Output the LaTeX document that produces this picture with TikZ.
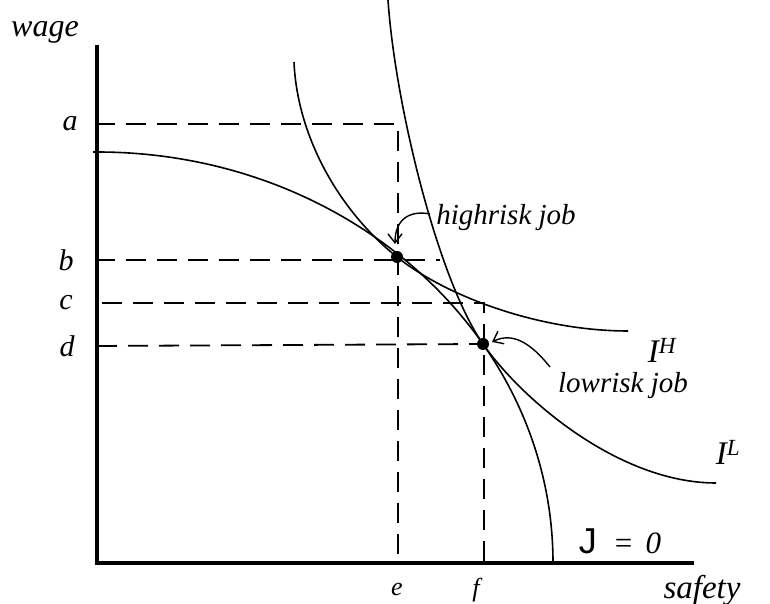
\documentclass[tikz,border=0pt]{standalone}
\usepackage{fontspec}
\setmainfont{Liberation Serif}
\setsansfont{Liberation Sans}
\usetikzlibrary{arrows.meta}
\begin{document}
\begin{tikzpicture}[x=1pt,y=1pt,
  axis/.style={line width=4pt},
  curve/.style={line width=1.6pt},
  guide/.style={line width=1.8pt, dash pattern=on 20pt off 11pt},
  lbl/.style={font=\fontsize{24}{28}\selectfont\itshape, inner sep=0pt},
  big/.style={font=\fontsize{30}{34}\selectfont\itshape},
  dot/.style={circle, fill=black, minimum size=12pt, inner sep=0pt},
  pointer/.style={line width=1.4pt, -{Straight Barb[length=9pt,width=14pt]}}]
\useasboundingbox (0,0) rectangle (770,604);
% axes
\coordinate (O) at (97,41);
\coordinate (Ytop) at (97,559);
\coordinate (Xend) at (694,41);
\draw[axis] (Ytop) -- (O) -- (Xend);
% points
\node[dot] (H) at (397,347) {};
\node[dot] (L) at (483,260) {};
% guide coordinates
\coordinate (ya) at (95,480);
\coordinate (xa) at (398,480);
\coordinate (xe) at (398,41);
\coordinate (yb) at (95,344);
\coordinate (xb) at (440,344);
\coordinate (yc) at (102,301);
\coordinate (xc) at (484,301);
\coordinate (xf) at (484,41);
\coordinate (yd) at (97,258);
% dashed guides
\draw[guide] (ya) -- (xa) -- (xe);
\draw[guide] (yb) -- (xb);
\draw[guide] (yc) -- (xc) -- (xf);
\draw[guide] (yd) -- (L.center);
% J = 0 curve (offer curve)
\draw[curve] (93,452) -- (97,452) arc[start angle=90, end angle=0, x radius=456, y radius=411];
% I^H
\draw[curve] (294,542) .. controls (297,470) and (337,395) .. (H.center)
  .. controls (447,307) and (540,273) .. (628,273);
% I^L
\draw[curve] (388,604) .. controls (395,500) and (438,324) .. (L.center)
  .. controls (523,203) and (620,121) .. (716,121);
% labels
\node[lbl, font=\fontsize{32}{36}\selectfont\itshape] (wage) at (45,572) {wage};
\node[lbl, big] (la) at (70,480) {a};
\node[lbl, big] (lb) at (66,344) {b};
\node[lbl, big] (lc) at (66,301) {c};
\node[lbl, big] (ld) at (67,258) {d};
\node[lbl, font=\fontsize{26}{30}\selectfont\itshape] (le) at (397,14) {e};
\node[lbl, font=\fontsize{26}{30}\selectfont\itshape] (lf) at (476,14) {f};
\node[lbl, font=\fontsize{33}{36}\selectfont\itshape] (saf) at (702,14) {safety};
\node[lbl, font=\fontsize{33}{36}\selectfont\itshape] (IH) at (662,254) {I\textsuperscript{H}};
\node[lbl, font=\fontsize{33}{36}\selectfont\itshape] (IL) at (728,152) {I\textsuperscript{L}};
\node[lbl, font=\fontsize{29}{32}\selectfont\itshape] (hr) at (506,386) {highrisk job};
\node[lbl, font=\fontsize{29}{32}\selectfont\itshape] (lr) at (623,218) {lowrisk job};
\node[lbl, font=\fontsize{31}{34}\selectfont\itshape] (J0) at (620,63) {{\upshape\sffamily\fontsize{36}{38}\selectfont J}\hspace{16pt}=\hspace{12pt}0};
% pointers
\coordinate (hrtip) at (395,360);
\coordinate (lrtip) at (492,262);
\draw[pointer] ([xshift=-6pt,yshift=4pt]hr.west) .. controls (410,394) and (395,385) .. (hrtip);
\draw[pointer] (550,237) .. controls (530,262) and (512,272) .. (lrtip);
\end{tikzpicture}
\end{document}
